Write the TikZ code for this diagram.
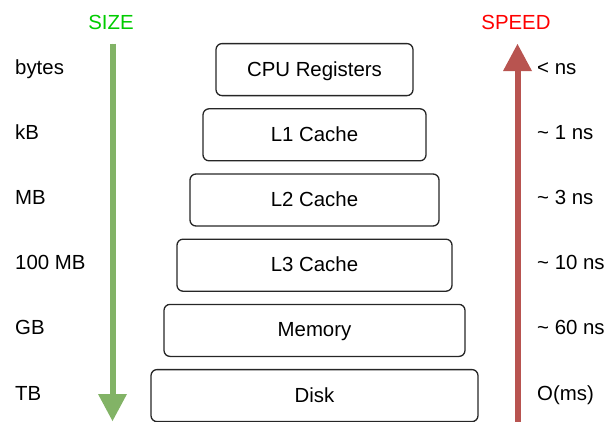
\documentclass[tikz,border=0pt]{standalone}
\usepackage{fontspec}
\setmainfont{Liberation Sans}
\usetikzlibrary{arrows.meta}
\definecolor{sizegreen}{HTML}{82B366}
\definecolor{speedred}{HTML}{B85450}
\definecolor{sizetitle}{HTML}{00CC00}
\definecolor{speedtitle}{HTML}{FF0000}
\newcommand{\labelfont}{\fontsize{20.4}{24}\selectfont}

\begin{document}
\begin{tikzpicture}[x=1pt,y=-1pt,
  level/.style={draw=black!85, line width=1.3pt, rounded corners=6pt,
    minimum height=52pt, inner sep=0pt, text height=17pt, text depth=4pt,
    font=\labelfont},
  sidelabel/.style={anchor=base west, inner sep=0pt, font=\labelfont},
  axistitle/.style={anchor=base, inner sep=0pt, font=\labelfont},
  bigarrow/.style={line width=6pt,
    -{Triangle[width=29pt,length=27pt,line width=0pt]}}
]
\useasboundingbox (0,0) rectangle (608,421);

% memory hierarchy levels, widening towards the bottom
\node[level, minimum width=197pt] (reg)  at (314.5, 69.6)  {CPU Registers};
\node[level, minimum width=223pt] (l1)   at (314.5, 134.8) {L1 Cache};
\node[level, minimum width=249pt] (l2)   at (314.5, 200.0) {L2 Cache};
\node[level, minimum width=275pt] (l3)   at (314.5, 265.2) {L3 Cache};
\node[level, minimum width=301pt] (mem)  at (314.5, 330.4) {Memory};
\node[level, minimum width=327pt] (disk) at (314.5, 395.6) {Disk};

% size axis
\node[axistitle, text=sizetitle] (sizet) at (111, 29) {SIZE};
\coordinate (sizetop) at (112.5, 43.5);
\coordinate (sizebot) at (112.5, 421);
\draw[bigarrow, draw=sizegreen, fill=sizegreen] (sizetop) -- (sizebot);

% speed axis
\node[axistitle, text=speedtitle] (speedt) at (516, 29) {SPEED};
\coordinate (speedbot) at (517.5, 430);
\coordinate (speedtop) at (517.5, 44);
\draw[bigarrow, draw=speedred, fill=speedred] (speedbot) -- (speedtop);

% size labels
\node[sidelabel] (s1) at (15, 74.0)  {bytes};
\node[sidelabel] (s2) at (15, 139.2) {kB};
\node[sidelabel] (s3) at (15, 204.4) {MB};
\node[sidelabel] (s4) at (15, 269.6) {100 MB};
\node[sidelabel] (s5) at (15, 334.8) {GB};
\node[sidelabel] (s6) at (15, 400.0) {TB};

% latency labels
\node[sidelabel] (t1) at (537, 74.0)  {< ns};
\node[sidelabel] (t2) at (537, 139.2) {\textasciitilde\ 1 ns};
\node[sidelabel] (t3) at (537, 204.4) {\textasciitilde\ 3 ns};
\node[sidelabel] (t4) at (537, 269.6) {\textasciitilde\ 10 ns};
\node[sidelabel] (t5) at (537, 334.8) {\textasciitilde\ 60 ns};
\node[sidelabel] (t6) at (537, 400.0) {O(ms)};
\end{tikzpicture}
\end{document}
